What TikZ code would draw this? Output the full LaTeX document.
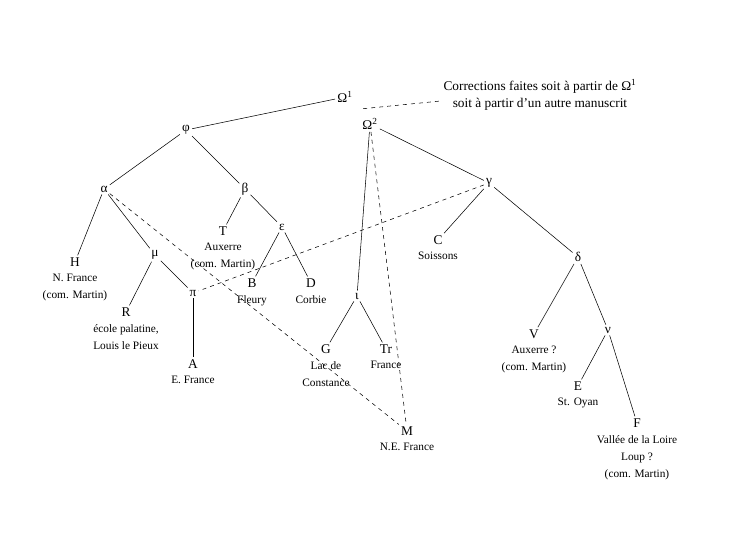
\documentclass[tikz,border=0pt]{standalone}
\usepackage{fontspec}
\setmainfont{Liberation Serif}
\usetikzlibrary{positioning}

\begin{document}
\begin{tikzpicture}[
  x=0.75pt, y=-0.75pt,
  every node/.style={font=\fontsize{10}{12.75}\selectfont},
  ms/.style={inner sep=1.5pt},
  place/.style={align=center, inner sep=0pt, font=\fontsize{8.5}{12.75}\selectfont},
  link/.style={line width=0.4pt},
  contam/.style={dashed, line width=0.4pt},
]
\useasboundingbox (0,0) rectangle (744,537);

% archetypes
\node[ms] (O1) at (345,97)  {Ω\textsuperscript{1}};
\node[ms] (O2) at (370,124) {Ω\textsuperscript{2}};
\node[align=center] (note) at (540,94.5)
  {Corrections faites soit à partir de Ω\textsuperscript{1}\\soit à partir d'un autre manuscrit};
\coordinate (corr) at (360,109);

% left branch
\node[ms] (phi)   at (186,130) {φ};
\node[ms] (alpha) at (104,189) {α};
\node[ms] (beta)  at (245,189) {β};
\node[ms] (H)     at (75,262)  {H};
\node[place, below=4pt of H] {N. France\\(com. Martin)};
\node[ms] (mu)    at (155,255) {μ};
\node[ms] (R)     at (126,312) {R};
\node[place, below=4pt of R] {école palatine,\\Louis le Pieux};
\node[ms] (pi)    at (193,293) {π};
\node[ms] (A)     at (193,364) {A};
\node[place, below=4pt of A] {E. France};
\node[ms] (T)     at (223,231) {T};
\node[place, below=4pt of T] {Auxerre\\(com. Martin)};
\node[ms] (eps)   at (282,227) {ε};
\node[ms] (B)     at (252,283) {B};
\node[place, below=4pt of B] {Fleury};
\node[ms] (D)     at (311,283) {D};
\node[place, below=4pt of D] {Corbie};

% right branch
\node[ms] (iota)  at (357,296) {ι};
\node[ms] (G)     at (326,349) {G};
\node[place, below=4pt of G] {Lac de\\Constance};
\node[ms] (Tr)    at (386,349) {Tr};
\node[place, below=4pt of Tr] {France};
\node[ms] (M)     at (407,431) {M};
\node[place, below=4pt of M] {N.E. France};
\node[ms] (gamma) at (489,183) {γ};
\node[ms] (C)     at (438,240) {C};
\node[place, below=4pt of C] {Soissons};
\node[ms] (delta) at (578,257) {δ};
\node[ms] (V)     at (534,334) {V};
\node[place, below=4pt of V] {Auxerre ?\\(com. Martin)};
\node[ms] (nu)    at (608,330) {ν};
\node[ms] (E)     at (578,386) {E};
\node[place, below=4pt of E] {St. Oyan};
\node[ms] (F)     at (637,423) {F};
\node[place, below=4pt of F] {Vallée de la Loire\\Loup ?\\(com. Martin)};

% filiation
\foreach \a/\b in {O1/phi, phi/alpha, phi/beta, alpha/H, alpha/mu, mu/R, mu/pi,
                   pi/A, beta/T, beta/eps, eps/B, eps/D, O2/gamma, O2/iota,
                   iota/G, iota/Tr, gamma/C, gamma/delta, delta/V, delta/nu,
                   nu/E, nu/F}
  \draw[link] (\a) -- (\b);

% contamination
\draw[contam] (alpha) -- (M);
\draw[contam] (gamma) -- (pi);
\draw[contam] (O2) -- (M);
\draw[contam] ([yshift=-5pt]note.west) -- (corr);
\end{tikzpicture}
\end{document}
